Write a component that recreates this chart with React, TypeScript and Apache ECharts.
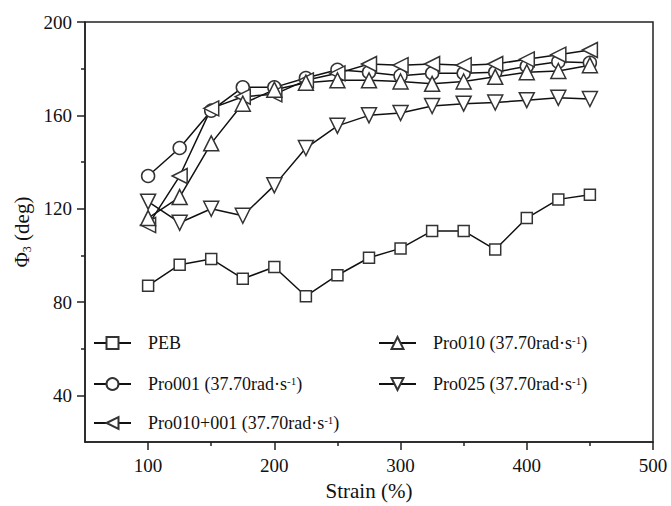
import React, { useEffect, useRef } from "react";
import * as echarts from "echarts";

const strain = [100, 125, 150, 175, 200, 225, 250, 275, 300, 325, 350, 375, 400, 425, 450];
const peb = [87, 96, 98.5, 90, 95, 82.5, 91.5, 99, 103, 110.5, 110.5, 102.5, 116, 124, 126];
const pro001 = [134, 146, 162, 172, 172, 176, 179.5, 178.5, 177, 178, 178, 178.5, 181, 183, 182.5];
const pro010 = [116, 125, 148, 165, 171, 174, 175, 175, 174.5, 173.5, 174.5, 176.5, 178.5, 179, 181.5];
const pro025 = [123, 114, 120, 117, 130, 146, 155.5, 160, 161, 164, 165, 165.5, 166.5, 167.5, 167];
const pro010001 = [113, 134, 163, 168, 169, 175, 178, 182, 181.5, 182, 181.5, 182, 184, 186, 188];

const xMajor = [100, 200, 300, 400, 500];
const xMinor = [150, 250, 350, 450];
const yMajor = [40, 80, 120, 160, 200];
const yMinor = [60, 100, 140, 180];

const FONT = "'Liberation Serif', 'Times New Roman', serif";

const seriesDefs = [
  { name: "PEB", data: peb, symbol: "rect", size: 11, rotate: 0 },
  { name: "Pro001", data: pro001, symbol: "circle", size: 13, rotate: 0 },
  { name: "Pro010+001", data: pro010001, symbol: "triangle", size: 15, rotate: 90 },
  { name: "Pro010", data: pro010, symbol: "triangle", size: 15, rotate: 0 },
  { name: "Pro025", data: pro025, symbol: "triangle", size: 15, rotate: 180 },
];

const legendPos = [
  { name: "PEB", left: 93, top: 334 },
  { name: "Pro001", left: 93, top: 375 },
  { name: "Pro010+001", left: 93, top: 414 },
  { name: "Pro010", left: 378, top: 334 },
  { name: "Pro025", left: 378, top: 375 },
];

export default function App() {
  const ref = useRef<HTMLDivElement>(null);
  useEffect(() => {
    if (!ref.current) return;
    const chart = echarts.init(ref.current, null, { renderer: "svg" });
    const axisColor = "#222";
    const option: any = {
      animation: false,
      backgroundColor: "#fff",
      grid: {
        left: 85,
        right: 18,
        top: 22,
        bottom: 63,
        show: true,
        borderColor: axisColor,
        borderWidth: 1.5,
        backgroundColor: "transparent",
      },
      legend: legendPos.map((l) => ({
        data: [l.name],
        left: l.left,
        top: l.top,
        orient: "vertical",
        itemWidth: 37,
        itemHeight: 15,
        itemGap: 0,
        padding: 0,
        selectedMode: false,
        formatter: (n: string) =>
          n === "PEB" ? "PEB" : n + " (37.70rad·s{sup|-1})",
        textStyle: {
          fontFamily: FONT,
          fontSize: 18,
          color: "#111",
          padding: [0, 0, 0, 12],
          rich: {
            sup: { fontFamily: FONT, fontSize: 11, verticalAlign: "top", color: "#111", lineHeight: 12 },
          },
        },
      })),
      xAxis: [
        {
          type: "value",
          min: 50,
          max: 500,
          name: "Strain (%)",
          nameLocation: "middle",
          nameGap: 37,
          nameTextStyle: { fontFamily: FONT, fontSize: 21, color: "#111" },
          axisLine: { show: true, onZero: false, lineStyle: { color: axisColor, width: 1.5 } },
          axisTick: { show: true, length: 8, customValues: xMajor, lineStyle: { color: axisColor, width: 1.5 } },
          axisLabel: { customValues: xMajor, fontFamily: FONT, fontSize: 19, color: "#111", margin: 14 },
          splitLine: { show: false },
        },
        {
          type: "value",
          min: 50,
          max: 500,
          position: "bottom",
          axisLine: { show: false },
          axisTick: { show: true, length: 4, customValues: xMinor, lineStyle: { color: axisColor, width: 1.5 } },
          axisLabel: { show: false },
          splitLine: { show: false },
        },
      ],
      yAxis: [
        {
          type: "value",
          min: 20,
          max: 200,
          name: "Φ{sub|3} (deg)",
          nameLocation: "middle",
          nameGap: 52,
          nameTextStyle: {
            fontFamily: FONT,
            fontSize: 21,
            color: "#111",
            rich: { sub: { fontFamily: FONT, fontSize: 12, verticalAlign: "bottom", color: "#111" } },
          },
          axisLine: { show: true, onZero: false, lineStyle: { color: axisColor, width: 1.5 } },
          axisTick: { show: true, length: 8, customValues: yMajor, lineStyle: { color: axisColor, width: 1.5 } },
          axisLabel: { customValues: yMajor, fontFamily: FONT, fontSize: 19, color: "#111", margin: 13 },
          splitLine: { show: false },
        },
        {
          type: "value",
          min: 20,
          max: 200,
          position: "left",
          axisLine: { show: false },
          axisTick: { show: true, length: 4, customValues: yMinor, lineStyle: { color: axisColor, width: 1.5 } },
          axisLabel: { show: false },
          splitLine: { show: false },
        },
      ],
      series: seriesDefs.map((s) => ({
        name: s.name,
        type: "line",
        xAxisIndex: 0,
        yAxisIndex: 0,
        data: strain.map((x, i) => [x, s.data[i]]),
        symbol: s.symbol,
        symbolSize: s.size,
        symbolRotate: s.rotate,
        showAllSymbol: true,
        lineStyle: { color: "#111", width: 1.5 },
        itemStyle: { color: "#fff", borderColor: "#333", borderWidth: 1.5 },
        emphasis: { disabled: true },
      })),
    };
    chart.setOption(option);
    return () => chart.dispose();
  }, []);
  return <div ref={ref} style={{ width: 671, height: 506, position: "absolute", left: 0, top: 0 }} />;
}
